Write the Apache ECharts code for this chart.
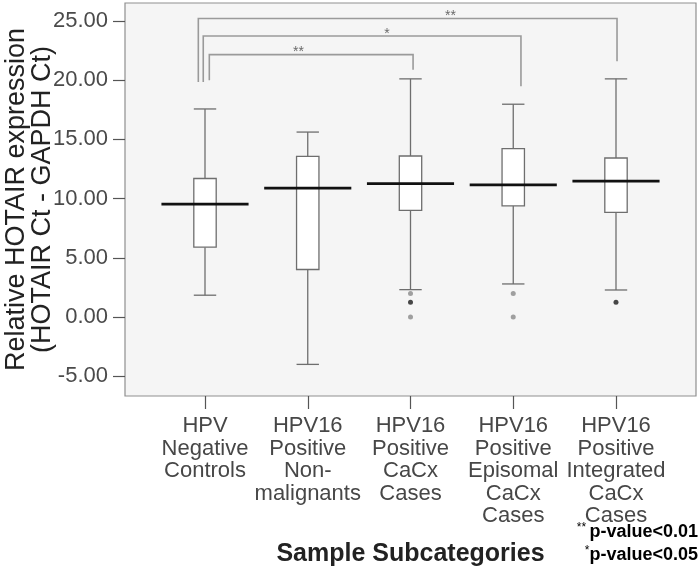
<!DOCTYPE html>
<html>
<head>
<meta charset="utf-8">
<script src="https://cdn.jsdelivr.net/npm/echarts@6.0.0/dist/echarts.min.js"></script>
<style>
html,body{margin:0;padding:0;background:#fff;}
#chart{width:700px;height:571px;}
</style>
</head>
<body>
<div id="chart"></div>
<script>
// ---- data ----
const categories = [
  'HPV\nNegative\nControls',
  'HPV16\nPositive\nNon-\nmalignants',
  'HPV16\nPositive\nCaCx\nCases',
  'HPV16\nPositive\nEpisomal\nCaCx\nCases',
  'HPV16\nPositive\nIntegrated\nCaCx\nCases'
];
const whiskerLow  = [1.85, -3.99, 2.32, 2.80, 2.29];
const q1          = [5.90,  4.02, 9.01, 9.39, 8.84];
const median      = [9.54, 10.89, 11.26, 11.17, 11.48];
const q3          = [11.70, 13.57, 13.60, 14.22, 13.43];
const whiskerHigh = [17.57, 15.62, 20.11, 17.97, 20.11];

const outlierCategory = [3, 3, 3, 4, 4, 5];
const outlierValue    = [2.0, 1.25, 0.0, 2.0, 0.0, 1.25];
const outlierCount    = [1, 2, 1, 1, 1, 2];

// significance brackets (x in category units, y in data units)
const bracketFrom     = [0.935, 0.983, 1.042];
const bracketTo       = [5.010, 4.075, 3.025];
const bracketTop      = [25.20, 23.73, 22.16];
const bracketLeftEnd  = [19.85, 19.85, 19.99];
const bracketRightEnd = [21.59, 19.48, 20.89];
const bracketLabel    = ['**', '*', '**'];
const bracketLabelX   = [3.39, 2.77, 1.91];

const yTicks = [-5, 0, 5, 10, 15, 20, 25];
const xTicks = [1, 2, 3, 4, 5];

// ---- build ----
const FONT = "'Liberation Sans', Arial, sans-serif";
const boxData = categories.map((c, i) => [i + 1, whiskerLow[i], q1[i], median[i], q3[i], whiskerHigh[i]]);
const outlierData = outlierCategory.map((c, i) => [c, outlierValue[i], outlierCount[i]]);
const bracketData = bracketFrom.map((f, i) => [f, bracketTo[i], bracketTop[i], bracketLeftEnd[i], bracketRightEnd[i], bracketLabelX[i], i]);

const chart = echarts.init(document.getElementById('chart'), null, {renderer: 'canvas'});

const option = {
  animation: false,
  textStyle: {fontFamily: FONT},
  grid: {
    left: 125, right: 4, top: 3, bottom: 175,
    containLabel: false, outerBoundsMode: 'none',
    show: true, backgroundColor: '#f5f5f5', borderColor: '#8f8f8f', borderWidth: 1.2
  },
  xAxis: {
    type: 'value', min: 0.2214, max: 5.7786,
    splitLine: {show: false},
    axisLine: {show: false, onZero: false},
    axisTick: {show: true, customValues: xTicks, length: 13, lineStyle: {color: '#555', width: 1.2}},
    axisLabel: {
      customValues: xTicks, margin: 19,
      formatter: v => categories[Math.round(v) - 1],
      color: '#474747', fontSize: 22, lineHeight: 22.5, fontFamily: FONT, align: 'center'
    },
    name: 'Sample Subcategories', nameLocation: 'middle', nameGap: 146, nameMoveOverlap: false,
    nameTextStyle: {fontSize: 25, fontWeight: 'bold', color: '#222', fontFamily: FONT}
  },
  yAxis: {
    type: 'value', min: -6.658, max: 26.514,
    splitLine: {show: false},
    axisLine: {show: false, onZero: false},
    axisTick: {show: true, customValues: yTicks, length: 12, lineStyle: {color: '#555', width: 1.2}},
    axisLabel: {
      customValues: yTicks, margin: 17,
      formatter: v => v.toFixed(2),
      color: '#4a4a4a', fontSize: 22, fontFamily: FONT
    },
    name: 'Relative HOTAIR expression\n(HOTAIR Ct - GAPDH Ct)',
    nameLocation: 'middle', nameGap: 70, nameRotate: 90, nameMoveOverlap: false,
    nameTextStyle: {fontSize: 27, lineHeight: 25.5, color: '#222', fontFamily: FONT}
  },
  series: [
    {
      type: 'custom',
      data: bracketData,
      z: 2,
      renderItem: function (params, api) {
        const x1 = api.value(0), x2 = api.value(1);
        const pTop1 = api.coord([x1, api.value(2)]);
        const pTop2 = api.coord([x2, api.value(2)]);
        const pL = api.coord([x1, api.value(3)]);
        const pR = api.coord([x2, api.value(4)]);
        const pLab = api.coord([api.value(5), api.value(2)]);
        return {
          type: 'group',
          children: [
            {type: 'polyline', shape: {points: [pL, pTop1, pTop2, pR]},
             style: {stroke: '#9a9a9a', lineWidth: 1.6, fill: null}},
            {type: 'text', x: pLab[0], y: pTop1[1] - 2,
             style: {text: bracketLabel[api.value(6)], fill: '#6a6a6a', font: '14px ' + FONT,
                     align: 'center', verticalAlign: 'middle', textAlign: 'center', textVerticalAlign: 'middle'}}
          ]
        };
      }
    },
    {
      type: 'custom',
      data: boxData,
      z: 3,
      renderItem: function (params, api) {
        const c = api.value(0);
        const half = api.size([0.109, 0])[0];
        const medHalf = api.size([0.424, 0])[0];
        const pLow = api.coord([c, api.value(1)]);
        const pQ1 = api.coord([c, api.value(2)]);
        const pMed = api.coord([c, api.value(3)]);
        const pQ3 = api.coord([c, api.value(4)]);
        const pHigh = api.coord([c, api.value(5)]);
        const x = pMed[0];
        const line = {stroke: '#6e6e6e', lineWidth: 1.3};
        return {
          type: 'group',
          children: [
            {type: 'line', shape: {x1: x, y1: pHigh[1], x2: x, y2: pQ3[1]}, style: line},
            {type: 'line', shape: {x1: x, y1: pQ1[1], x2: x, y2: pLow[1]}, style: line},
            {type: 'line', shape: {x1: x - half, y1: pHigh[1], x2: x + half, y2: pHigh[1]}, style: line},
            {type: 'line', shape: {x1: x - half, y1: pLow[1], x2: x + half, y2: pLow[1]}, style: line},
            {type: 'rect', shape: {x: x - half, y: pQ3[1], width: 2 * half, height: pQ1[1] - pQ3[1]},
             style: {fill: '#ffffff', stroke: '#6e6e6e', lineWidth: 1.3}},
            {type: 'line', shape: {x1: x - medHalf, y1: pMed[1], x2: x + medHalf, y2: pMed[1]},
             style: {stroke: '#111', lineWidth: 2.8}}
          ]
        };
      }
    },
    {
      type: 'scatter',
      data: outlierData,
      z: 4,
      symbol: 'circle',
      symbolSize: 5,
      itemStyle: {
        color: function (p) { return p.data[2] > 1 ? '#1a1a1a' : '#8a8a8a'; }
      }
    }
  ],
  graphic: [
    {
      type: 'text', right: 2, top: 522,
      style: {
        text: '{s|**} {b|p-value<0.01}',
        rich: {
          s: {fontSize: 12, color: '#777', fontFamily: FONT, verticalAlign: 'top', lineHeight: 20},
          b: {fontSize: 18, fontWeight: 'bold', color: '#222', fontFamily: FONT, lineHeight: 20}
        }
      }
    },
    {
      type: 'text', right: 2, top: 545,
      style: {
        text: '{s|*}{b|p-value<0.05}',
        rich: {
          s: {fontSize: 12, color: '#777', fontFamily: FONT, verticalAlign: 'top', lineHeight: 20},
          b: {fontSize: 18, fontWeight: 'bold', color: '#222', fontFamily: FONT, lineHeight: 20}
        }
      }
    }
  ]
};
chart.setOption(option);
</script>
</body>
</html>
